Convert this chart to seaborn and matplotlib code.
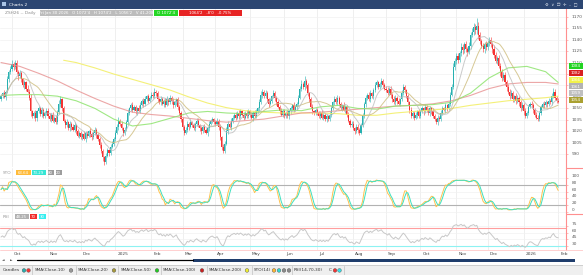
import numpy as np
import pandas as pd
import matplotlib
matplotlib.use("Agg")
import matplotlib.pyplot as plt
import matplotlib.transforms as mtransforms
from matplotlib.patches import Rectangle
import seaborn as sns

# ---------------- data ----------------
symbol = "ZSH26 -- Daily"
start_date = "2024-09-20"

close_sep24 = [1066, 1070, 1065, 1072, 1088, 1097, 1102]
close_oct24 = [1108, 1104, 1110, 1098, 1092, 1096, 1088, 1080, 1084, 1076, 1072, 1064,
               1046, 1040, 1044, 1037, 1046, 1050, 1043, 1048, 1040, 1044, 1047]
close_nov24 = [1040, 1036, 1042, 1034, 1038, 1032, 1045, 1056, 1062, 1050, 1034, 1028,
               1032, 1024, 1030, 1026, 1022, 1028, 1020, 1014, 1018]
close_dec24 = [1012, 1016, 1010, 1018, 1014, 1020, 1016, 1012, 1018, 1022, 1015, 1010,
               1002, 994, 986, 980, 988, 995, 992, 1000, 1004, 1010]
close_jan25 = [1018, 1026, 1034, 1030, 1024, 1018, 1022, 1032, 1044, 1050, 1054, 1048,
               1052, 1046, 1050, 1047, 1055, 1060, 1056, 1062, 1066, 1060, 1064]
close_feb25 = [1068, 1066, 1072, 1070, 1062, 1058, 1062, 1056, 1060, 1055, 1062, 1058,
               1064, 1060, 1054, 1058, 1062, 1052, 1044, 1036]
close_mar25 = [1026, 1018, 1022, 1030, 1026, 1032, 1028, 1024, 1030, 1034, 1028, 1024,
               1020, 1026, 1022, 1018, 1024, 1030, 1034, 1036, 1032]
close_apr25 = [1030, 1034, 1026, 1012, 1000, 994, 1004, 1020, 1030, 1026, 1034, 1038,
               1042, 1038, 1044, 1040, 1046, 1042, 1038, 1044, 1040, 1046]
close_may25 = [1042, 1038, 1044, 1040, 1046, 1050, 1058, 1068, 1072, 1066, 1070, 1062,
               1056, 1060, 1066, 1070, 1064, 1058, 1052, 1046, 1042, 1046]
close_jun25 = [1040, 1044, 1040, 1046, 1050, 1054, 1048, 1052, 1056, 1064, 1076, 1082,
               1078, 1086, 1080, 1070, 1062, 1052, 1046, 1044, 1048]
close_jul25 = [1044, 1040, 1044, 1038, 1042, 1036, 1040, 1036, 1042, 1050, 1058, 1062,
               1058, 1064, 1056, 1050, 1054, 1048, 1052, 1042, 1034, 1028, 1030]
close_aug25 = [1024, 1020, 1026, 1022, 1018, 1028, 1040, 1056, 1064, 1068, 1062, 1070,
               1066, 1074, 1080, 1084, 1078, 1082, 1086, 1080, 1076]
close_sep25 = [1074, 1070, 1076, 1068, 1062, 1058, 1064, 1060, 1056, 1062, 1070, 1078,
               1074, 1066, 1058, 1048, 1040, 1044, 1038, 1042, 1046, 1040]
close_oct25 = [1046, 1050, 1046, 1052, 1048, 1044, 1050, 1046, 1040, 1036, 1032, 1038,
               1036, 1044, 1050, 1048, 1054, 1050, 1056, 1068, 1078, 1104, 1112]
close_nov25 = [1118, 1114, 1122, 1130, 1126, 1134, 1128, 1124, 1132, 1146, 1150, 1156,
               1152, 1158, 1146, 1138, 1132, 1128, 1134, 1130]
close_dec25 = [1136, 1140, 1134, 1128, 1120, 1112, 1116, 1106, 1098, 1090, 1094, 1084,
               1078, 1072, 1066, 1070, 1062, 1066, 1060, 1064, 1058, 1050, 1054]
close_jan26 = [1046, 1040, 1044, 1052, 1056, 1054, 1048, 1042, 1038, 1036, 1044, 1052,
               1056, 1054, 1058, 1056, 1060, 1058, 1066, 1072, 1064, 1060]
close_feb26 = [1059]
first_open = 1062

# wick lengths above / below the candle bodies (one month per line)
wick_hi = [3, 2, 4, 2, 5, 3, 4,
           5, 3, 4, 3, 2, 4, 3, 2, 3, 2, 4, 3, 5, 2, 3, 4, 2, 3, 2, 4, 3, 2, 3,
           3, 4, 2, 3, 2, 4, 3, 5, 4, 2, 3, 2, 4, 2, 3, 2, 3, 4, 2, 3, 2,
           3, 2, 4, 2, 3, 2, 4, 3, 2, 3, 2, 3, 2, 4, 3, 2, 4, 3, 2, 4, 3, 2,
           4, 3, 5, 2, 3, 2, 4, 3, 5, 2, 3, 4, 2, 3, 2, 4, 3, 2, 3, 4, 2, 3, 2,
           4, 3, 5, 2, 3, 2, 4, 3, 2, 3, 4, 2, 3, 2, 4, 3, 2, 3, 2, 3,
           3, 2, 4, 3, 2, 4, 2, 3, 2, 4, 3, 2, 3, 2, 4, 2, 3, 4, 2, 3, 2,
           3, 4, 2, 3, 2, 4, 3, 5, 3, 2, 4, 3, 2, 3, 2, 4, 3, 2, 3, 2, 4, 3,
           2, 3, 2, 4, 3, 2, 4, 5, 3, 2, 4, 3, 2, 3, 2, 4, 3, 2, 3, 2, 4, 3,
           3, 2, 4, 2, 3, 2, 4, 3, 2, 4, 3, 5, 3, 6, 2, 3, 2, 3, 4, 2, 3,
           2, 3, 2, 4, 3, 2, 3, 2, 4, 3, 2, 4, 3, 4, 2, 3, 2, 4, 3, 2, 3, 2, 3,
           3, 2, 4, 3, 2, 3, 4, 3, 4, 2, 3, 4, 2, 3, 4, 3, 2, 3, 4, 2, 3,
           3, 4, 2, 3, 2, 4, 3, 2, 3, 2, 4, 4, 3, 2, 3, 2, 4, 3, 2, 3, 2, 3,
           2, 3, 2, 4, 3, 2, 3, 2, 4, 3, 2, 3, 2, 4, 3, 2, 3, 2, 4, 3, 4, 5, 4,
           5, 4, 3, 5, 4, 3, 4, 3, 5, 4, 5, 6, 4, 10, 5, 4, 3, 4, 3, 4,
           4, 3, 4, 3, 5, 4, 3, 4, 3, 4, 3, 4, 3, 4, 3, 4, 3, 2, 4, 3, 2, 3, 4,
           3, 4, 2, 3, 2, 4, 3, 2, 3, 4, 2, 3, 2, 4, 3, 2, 3, 2, 4, 5, 3, 2,
           3]
wick_lo = [2, 3, 2, 4, 2, 3, 2,
           3, 4, 2, 3, 5, 2, 3, 2, 4, 3, 2, 3, 6, 3, 2, 4, 3, 2, 3, 4, 2, 3, 2,
           2, 3, 4, 2, 3, 2, 3, 2, 4, 3, 2, 4, 3, 2, 3, 4, 2, 3, 4, 2, 3,
           2, 3, 2, 4, 3, 2, 3, 4, 2, 3, 4, 3, 4, 3, 5, 4, 3, 2, 4, 3, 2, 3,
           3, 2, 4, 3, 2, 4, 3, 2, 3, 2, 4, 3, 2, 3, 4, 2, 3, 2, 4, 3, 2, 3, 2,
           2, 3, 2, 4, 3, 2, 3, 2, 4, 3, 2, 3, 2, 4, 3, 2, 3, 4, 3, 4,
           4, 3, 2, 3, 4, 2, 3, 2, 4, 3, 2, 3, 4, 2, 3, 2, 4, 3, 2, 3, 2,
           3, 2, 4, 4, 5, 3, 3, 2, 3, 2, 4, 3, 2, 3, 2, 4, 3, 2, 3, 2, 3, 2,
           3, 2, 4, 2, 3, 2, 3, 2, 4, 3, 2, 3, 4, 2, 3, 2, 4, 3, 2, 3, 2, 3,
           2, 3, 2, 4, 3, 2, 3, 2, 4, 3, 2, 3, 2, 4, 3, 4, 3, 2, 3, 2, 3,
           3, 2, 4, 2, 3, 2, 4, 3, 2, 3, 2, 3, 2, 4, 3, 2, 3, 2, 4, 3, 2, 3, 2,
           2, 3, 2, 4, 3, 2, 3, 2, 4, 3, 2, 3, 2, 4, 3, 2, 3, 2, 4, 3, 2,
           2, 3, 2, 4, 3, 2, 3, 4, 2, 3, 2, 3, 4, 2, 3, 4, 3, 2, 3, 2, 4, 3,
           3, 2, 4, 2, 3, 2, 4, 3, 2, 3, 2, 4, 3, 2, 3, 2, 4, 3, 2, 3, 2, 3, 4,
           4, 5, 3, 4, 5, 3, 4, 5, 3, 4, 3, 4, 5, 4, 5, 4, 3, 4, 5, 3,
           3, 4, 3, 5, 4, 3, 4, 3, 5, 4, 3, 4, 5, 3, 4, 3, 4, 3, 4, 3, 5, 3, 2,
           4, 3, 2, 3, 2, 3, 4, 3, 2, 3, 2, 3, 2, 3, 2, 4, 3, 2, 3, 2, 3, 3,
           2]

# longer moving averages at every 12th session
sma_idx = [0, 12, 24, 36, 48, 60, 72, 84, 96, 108, 120, 132, 144, 156, 168, 180,
           192, 204, 216, 228, 240, 252, 264, 276, 288, 300, 312, 324, 336, 348, 356]
sma50_vals = [1067, 1068, 1068, 1066, 1060, 1050, 1036, 1027, 1030, 1037, 1044, 1046,
              1044, 1043, 1046, 1048, 1047, 1052, 1054, 1050, 1049, 1053, 1054, 1055,
              1058, 1070, 1090, 1103, 1105, 1098, 1084]
sma100_vals = [1110, 1105, 1096, 1086, 1074, 1063, 1053, 1045, 1042, 1040, 1037, 1034,
               1032, 1034, 1036, 1040, 1044, 1045, 1047, 1049, 1051, 1053, 1054, 1056,
               1060, 1067, 1076, 1082, 1084, 1084, 1082]
sma200_idx = [40, 48, 60, 72, 84, 96, 108, 120, 132, 144, 156, 168, 180, 192, 204,
              216, 228, 240, 252, 264, 276, 288, 300, 312, 324, 336, 348, 356]
sma200_vals = [1113, 1110, 1103, 1095, 1088, 1081, 1074, 1065, 1057, 1051, 1047, 1045,
               1044, 1044, 1044, 1043, 1041, 1041, 1044, 1046, 1048, 1050, 1054, 1057,
               1060, 1062, 1064, 1066]

price_ticks = list(range(990, 1171, 15))
sto_ticks = [0, 20, 40, 60, 80, 100]
rsi_ticks = [30, 45, 60, 75]
sto_levels = [80, 20]
rsi_levels = [70, 30]
legend_items = ["Candles", "SMA(Close,10)", "SMA(Close,20)", "SMA(Close,50)",
                "SMA(Close,100)", "SMA(Close,200)", "STO(14)", "RSI(14,70,30)"]
header_info = "Fri Jan 30 2026   O 1072'4   H 1074'2   L 1056'2   V 41,208"
header_up = "O 1072'4"
header_dn = "1064'2   -8'0   -0.75%"

# ---------------- derived series ----------------
closes = (close_sep24 + close_oct24 + close_nov24 + close_dec24 + close_jan25 + close_feb25
          + close_mar25 + close_apr25 + close_may25 + close_jun25 + close_jul25 + close_aug25
          + close_sep25 + close_oct25 + close_nov25 + close_dec25 + close_jan26 + close_feb26)
n = len(closes)
assert len(wick_hi) == n and len(wick_lo) == n, (n, len(wick_hi), len(wick_lo))

df = pd.DataFrame({"date": pd.bdate_range(start_date, periods=n),
                   "close": np.array(closes, dtype=float)})
df["i"] = np.arange(n)
df["open"] = df["close"].shift(1).fillna(first_open)
body_top = df[["open", "close"]].max(axis=1)
body_bot = df[["open", "close"]].min(axis=1)
df["high"] = body_top + np.array(wick_hi)
df["low"] = body_bot - np.array(wick_lo)
df["sma10"] = df["close"].rolling(10, min_periods=1).mean()
df["sma20"] = df["close"].rolling(20, min_periods=1).mean()
ll = df["low"].rolling(14, min_periods=1).min()
hh = df["high"].rolling(14, min_periods=1).max()
fast_k = 100 * (df["close"] - ll) / (hh - ll)
df["sto_k"] = fast_k.rolling(3, min_periods=1).mean()
df["sto_d"] = df["sto_k"].rolling(3, min_periods=1).mean()
delta = df["close"].diff().fillna(0).values
ag, al, rsi = 3.0, 3.0, []
for dlt in delta:
    ag = (ag * 13 + max(dlt, 0)) / 14
    al = (al * 13 + max(-dlt, 0)) / 14
    rsi.append(100 - 100 / (1 + ag / al))
df["rsi"] = rsi

sma_df = pd.DataFrame({"i": sma_idx, "sma50": sma50_vals, "sma100": sma100_vals})
sma200_df = pd.DataFrame({"i": sma200_idx, "sma200": sma200_vals})

per = df["date"].dt.to_period("M")
firsts = df.groupby(per)["i"].first()
month_starts = firsts.values[1:]
month_labels = [str(p.year) if p.month == 1 else p.strftime("%b") for p in firsts.index[1:]]

# ---------------- figure ----------------
sns.set_theme(style="white")
plt.rcParams["font.family"] = ["DejaVu Sans"]
plt.rcParams["axes.linewidth"] = 0.5

W, H = 583, 275
fig = plt.figure(figsize=(W / 100, H / 100), dpi=100)
fig.patch.set_facecolor("white")


def pax(x0, y0, x1, y1):
    return fig.add_axes([x0 / W, 1 - y1 / H, (x1 - x0) / W, (y1 - y0) / H])


UP, DN = "#27b0b0", "#f53232"
PINK = "#ff8f8f"
VGRID, HGRID = "#ebebeb", "#f1f1f1"
FS = 3.1
XL = (-0.64, 361.0)


def style_panel(a, ylim, ticks, va="center"):
    a.set_xlim(XL)
    a.set_ylim(ylim)
    a.set_facecolor("white")
    for s in ["top", "left", "bottom"]:
        a.spines[s].set_visible(False)
    a.spines["right"].set_color(PINK)
    a.spines["right"].set_linewidth(0.8)
    a.yaxis.tick_right()
    a.set_yticks(ticks)
    a.set_yticklabels([str(t) for t in ticks])
    a.tick_params(axis="y", labelsize=FS, labelcolor="#5a5a5a", length=1.6,
                  width=0.4, color=PINK, pad=2.2, right=True, left=False)
    for lab in a.get_yticklabels():
        lab.set_va(va)
    a.tick_params(axis="x", length=0, labelbottom=False)
    a.set_xlabel("")
    a.set_ylabel("")
    for m in month_starts:
        a.axvline(m, color=VGRID, lw=0.55, zorder=0)
    for t in ticks:
        a.axhline(t, color=HGRID, lw=0.5, zorder=0)


# ---- main price panel ----
ax = pax(0, 9, 566, 167)
colors = np.where(df["close"] >= df["open"], UP, DN)
ax.vlines(df["i"], df["low"], df["high"], colors=colors, linewidth=0.4, zorder=3)
ax.bar(df["i"], np.maximum(body_top - body_bot, 0.8), bottom=body_bot, width=0.7,
       color=colors, linewidth=0, zorder=4)
sns.lineplot(data=sma200_df, x="i", y="sma200", ax=ax, color="#f3ef6a", lw=0.8, alpha=0.9, zorder=5)
sns.lineplot(data=sma_df, x="i", y="sma100", ax=ax, color="#e99797", lw=0.8, alpha=0.85, zorder=5)
sns.lineplot(data=sma_df, x="i", y="sma50", ax=ax, color="#8fe46f", lw=0.8, alpha=0.85, zorder=5)
sns.lineplot(data=df, x="i", y="sma20", ax=ax, color="#cdbb7a", lw=0.7, alpha=0.8, zorder=6)
sns.lineplot(data=df, x="i", y="sma10", ax=ax, color="#bdbdbd", lw=0.7, alpha=0.8, zorder=6)
style_panel(ax, (973.3, 1180.1), price_ticks)

# ---- stochastic panel ----
ax2 = pax(0, 168, 566, 214)
for lv in sto_levels:
    ax2.axhline(lv, color="#b2b2b2", lw=0.8, zorder=1)
sns.lineplot(data=df, x="i", y="sto_k", ax=ax2, color="#ffc24f", lw=0.7, zorder=3)
sns.lineplot(data=df, x="i", y="sto_d", ax=ax2, color="#3fe0bf", lw=0.7, zorder=4)
style_panel(ax2, (-6.9, 130.9), sto_ticks, va="bottom")

# ---- RSI panel ----
ax3 = pax(0, 214, 566, 250)
ax3.axhline(rsi_levels[0], color="#ff9e9e", lw=0.8, zorder=1)
ax3.axhline(rsi_levels[1], color="#8ef2f2", lw=0.8, zorder=1)
sns.lineplot(data=df, x="i", y="rsi", ax=ax3, color="#c8c8c8", lw=0.7, zorder=3)
style_panel(ax3, (20.1, 102.9), rsi_ticks, va="bottom")
ax3.set_xticks(month_starts)
ax3.set_xticklabels(month_labels)
ax3.tick_params(axis="x", labelbottom=True, labelsize=FS, labelcolor="#444444",
                pad=1.4, length=0)
shift = mtransforms.ScaledTranslation(2 / 100, 0, fig.dpi_scale_trans)
for lab in ax3.get_xticklabels():
    lab.set_ha("left")
    lab.set_transform(lab.get_transform() + shift)

# ---------------- overlay (chrome, boxes, legend bar) ----------------
ov = fig.add_axes([0, 0, 1, 1], zorder=10)
ov.set_xlim(0, W)
ov.set_ylim(H, 0)
ov.axis("off")
ov.patch.set_alpha(0)


def box(x0, y0, x1, y1, fc, text=None, tc="white", fs=FS, ha="center"):
    ov.add_patch(Rectangle((x0, y0), x1 - x0, y1 - y0, fc=fc, ec="none"))
    if text is not None:
        tx = (x0 + x1) / 2 if ha == "center" else x0 + 1
        ov.text(tx, (y0 + y1) / 2 + 0.2, text, color=tc, fontsize=fs, ha=ha, va="center")


# title bar
box(0, 0, W, 8.5, "#2c4672")
box(1.5, 2.3, 6, 6.3, "#a9c4e6")
ov.text(9, 4.5, "Charts 2", color="white", fontsize=3.2, va="center")
ov.text(561, 4.5, "⚙  ∨  ❐  ✛  –  □", color="#e8edf5", fontsize=3.0, va="center", ha="center")

# header row
ov.text(5, 12.9, symbol, color="#8c8c8c", fontsize=FS, va="center")
box(40, 9.9, 153, 15.9, "#bcbcbc", header_info, fs=2.8)
box(154, 9.9, 178, 15.9, "#25d625", header_up, fs=2.8)
box(179, 9.9, 242, 15.9, "#e72424", header_dn, fs=2.8)

# price value boxes on the right axis
last_vals = [sma50_vals[-1], sma100_vals[-1], sma200_vals[-1],
             df["sma10"].iloc[-1], df["close"].iloc[-1], df["sma20"].iloc[-1]]
box_cols = ["#22d322", "#d82020", "#f2f24a", "#b3b3b3", "#bfbfbf", "#aaa132"]
for k, (v, c) in enumerate(zip(last_vals, box_cols)):
    y0 = 63 + k * 6.75
    box(568.5, y0, 583, y0 + 6.2, c, f"{v:.0f}", fs=2.9)

# panel separators on the price scale
for yy in (167.8, 213.8):
    ov.plot([566, 583], [yy, yy], color=PINK, lw=0.8)
ov.plot([0, 583], [249.6, 249.6], color="#ffc9c9", lw=0.6)

# oscillator headers
ov.text(3, 172.7, "STO", color="#9a9a9a", fontsize=FS, va="center")
box(16, 170.2, 30.5, 175.4, "#ffbb3a", f"{df['sto_k'].iloc[-1]:.2f}", fs=2.8)
box(31.5, 170.2, 45.5, 175.4, "#37e6d5", f"{df['sto_d'].iloc[-1]:.2f}", fs=2.8)
box(47.5, 170.2, 53.5, 175.4, "#9d9d9d", str(sto_levels[0]), fs=2.8)
box(55.5, 170.2, 61.5, 175.4, "#9d9d9d", str(sto_levels[1]), fs=2.8)
ov.text(3, 216.7, "RSI", color="#9a9a9a", fontsize=FS, va="center")
box(14.5, 214.2, 28.5, 219.4, "#b0b0b0", f"{df['rsi'].iloc[-1]:.2f}", fs=2.8)
box(30, 214.2, 37, 219.4, "#f22a2a", str(rsi_levels[0]), fs=2.8)
box(38.5, 214.2, 45.5, 219.4, "#37eef0", str(rsi_levels[1]), fs=2.8)

# scroll bar row
ov.text(3.5, 260.4, "◄", color="#333333", fontsize=2.4, va="center", ha="center")
ov.text(11.5, 260.4, "►", color="#333333", fontsize=2.4, va="center", ha="center")
ov.plot([17, 193], [260.4, 260.4], color="black", lw=0.9)
box(193, 258.8, 575, 262.0, "#1f3d6c")

# legend bar
box(0, 265, W, H, "#efefef")
ov.plot([0, W], [265, 265], color="#c9c9c9", lw=0.6)
text_x = [3, 35, 78, 121, 163, 209, 254, 294]
for x, t in zip(text_x, legend_items):
    ov.text(x, 270.4, t, color="#333333", fontsize=FS, va="center")
for sx in [32, 76, 118, 161, 206.5, 252, 292, 344]:
    ov.plot([sx, sx], [266, 275], color="#c9c9c9", lw=0.6)
ov.text(328.5, 270.4, "C", color="#333333", fontsize=FS, va="center")
dot_x = [24, 28.5, 71, 114, 157, 202, 247, 274, 279, 284, 289, 335, 339.5]
dot_c = [UP, DN, "#9a9a9a", "#a89a3a", "#22cc22", "#cc2020", "#eeee30",
         "#ffb830", "#30d8d0", "#8a8a8a", "#8a8a8a", DN, "#30e0e8"]
ov.scatter(dot_x, [270.4] * len(dot_x), s=7, c=dot_c, edgecolors="#555555",
           linewidths=0.3, zorder=12)

fig.savefig("out.png", dpi=100, facecolor="white")
